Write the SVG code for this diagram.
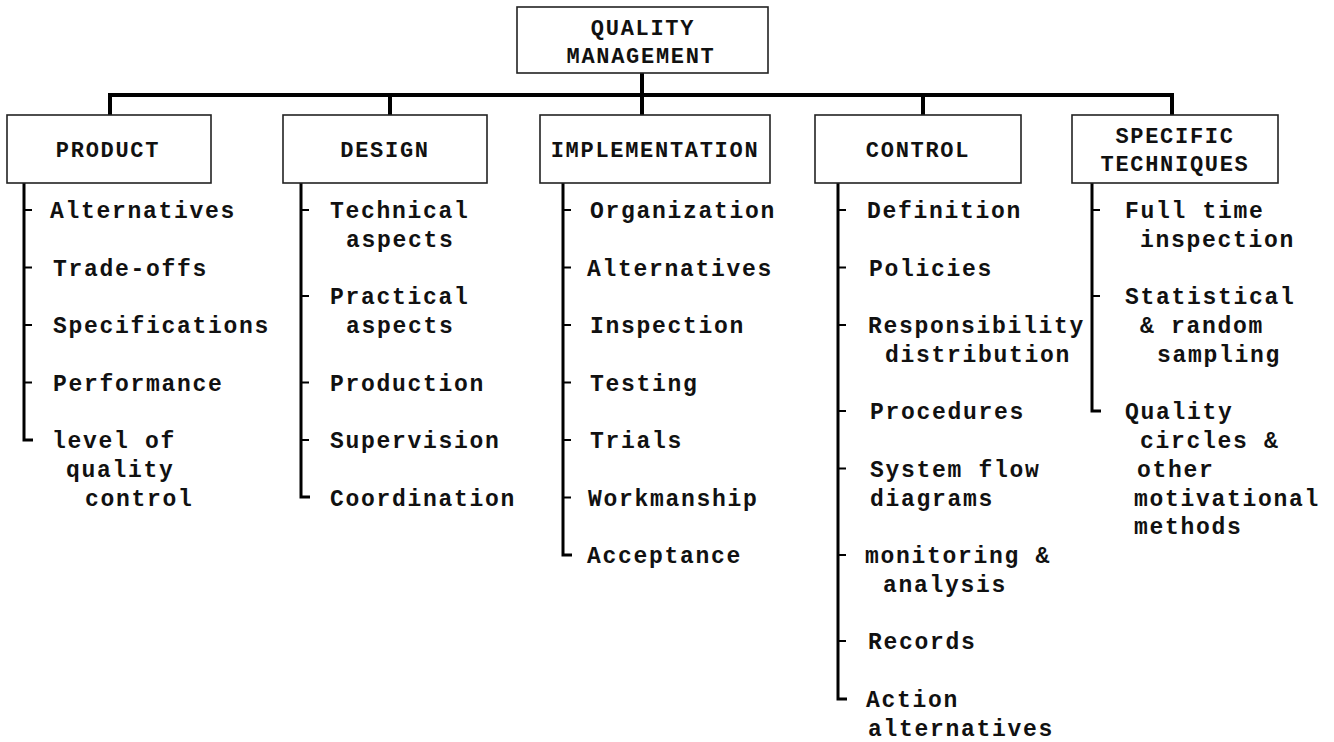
<svg xmlns="http://www.w3.org/2000/svg" width="1334" height="742" viewBox="0 0 1334 742">
<style>
.box{fill:#fff;stroke:#222;stroke-width:1.6}
.hd{font-family:"Liberation Mono","Courier New",monospace;font-weight:bold;font-size:22px;letter-spacing:1.7px;fill:#111;text-anchor:middle}
.it{font-family:"Liberation Mono","Courier New",monospace;font-weight:bold;font-size:23px;letter-spacing:1.7px;fill:#111}
.bar{fill:none;stroke:#000;stroke-width:4;stroke-linecap:square}
.ln{fill:none;stroke:#000;stroke-width:3}
.tk{fill:none;stroke:#000;stroke-width:2}
</style>
<rect width="1334" height="742" fill="#fff"/>
<g id="connectors">
<path class="bar" d="M110,115 V95 H1172 V115"/>
<path class="bar" d="M642,73 V115"/>
<path class="bar" d="M390,95 V115"/>
<path class="bar" d="M923,95 V115"/>
<!-- PRODUCT list -->
<path class="ln" d="M24,183 V440 H33"/>
<path class="tk" d="M24,210 H32 M24,267.5 H32 M24,325 H32 M24,382.5 H32"/>
<!-- DESIGN list -->
<path class="ln" d="M301,183 V497 H310"/>
<path class="tk" d="M301,210 H309 M301,296 H309 M301,382.5 H309 M301,440 H309"/>
<!-- IMPLEMENTATION list -->
<path class="ln" d="M563,183 V555 H572"/>
<path class="tk" d="M563,210 H571 M563,267.5 H571 M563,325 H571 M563,382.5 H571 M563,440 H571 M563,497.5 H571"/>
<!-- CONTROL list -->
<path class="ln" d="M838,183 V699 H847"/>
<path class="tk" d="M838,210 H846 M838,267.5 H846 M838,325 H846 M838,411 H846 M838,468.5 H846 M838,555 H846 M838,641 H846"/>
<!-- SPECIFIC TECHNIQUES list -->
<path class="ln" d="M1092,183 V411 H1101"/>
<path class="tk" d="M1092,210 H1100 M1092,296 H1100"/>
</g>
<g id="quality-management">
<rect class="box" x="517" y="7" width="251" height="66"/>
<text class="hd" x="643" y="35">QUALITY</text>
<text class="hd" x="641" y="63">MANAGEMENT</text>
</g>
<g id="product">
<rect class="box" x="7" y="115" width="204" height="68"/>
<text class="hd" x="108" y="157">PRODUCT</text>
<text class="it" x="50" y="218">Alternatives</text>
<text class="it" x="53" y="275.5">Trade-offs</text>
<text class="it" x="53" y="333">Specifications</text>
<text class="it" x="53" y="390.5">Performance</text>
<text class="it" x="52" y="448">level of</text>
<text class="it" x="66" y="476.75">quality</text>
<text class="it" x="85" y="505.5">control</text>
</g>
<g id="design">
<rect class="box" x="283" y="115" width="204" height="68"/>
<text class="hd" x="385" y="157">DESIGN</text>
<text class="it" x="330" y="218">Technical</text>
<text class="it" x="346" y="246.75">aspects</text>
<text class="it" x="330" y="304.25">Practical</text>
<text class="it" x="346" y="333">aspects</text>
<text class="it" x="330" y="390.5">Production</text>
<text class="it" x="330" y="448">Supervision</text>
<text class="it" x="330" y="505.5">Coordination</text>
</g>
<g id="implementation">
<rect class="box" x="540" y="115" width="230" height="68"/>
<text class="hd" x="655" y="157">IMPLEMENTATION</text>
<text class="it" x="590" y="218">Organization</text>
<text class="it" x="587" y="275.5">Alternatives</text>
<text class="it" x="590" y="333">Inspection</text>
<text class="it" x="590" y="390.5">Testing</text>
<text class="it" x="590" y="448">Trials</text>
<text class="it" x="588" y="505.5">Workmanship</text>
<text class="it" x="587" y="563">Acceptance</text>
</g>
<g id="control">
<rect class="box" x="815" y="115" width="206" height="68"/>
<text class="hd" x="918" y="157">CONTROL</text>
<text class="it" x="867" y="218">Definition</text>
<text class="it" x="869" y="275.5">Policies</text>
<text class="it" x="868" y="333">Responsibility</text>
<text class="it" x="885" y="361.75">distribution</text>
<text class="it" x="870" y="419.25">Procedures</text>
<text class="it" x="870" y="476.75">System flow</text>
<text class="it" x="870" y="505.5">diagrams</text>
<text class="it" x="865" y="563">monitoring &amp;</text>
<text class="it" x="883" y="591.75">analysis</text>
<text class="it" x="868" y="649.25">Records</text>
<text class="it" x="866" y="706.75">Action</text>
<text class="it" x="868" y="735.5">alternatives</text>
</g>
<g id="specific-techniques">
<rect class="box" x="1072" y="115" width="206" height="68"/>
<text class="hd" x="1175" y="143">SPECIFIC</text>
<text class="hd" x="1175" y="171">TECHNIQUES</text>
<text class="it" x="1125" y="218">Full time</text>
<text class="it" x="1140" y="246.75">inspection</text>
<text class="it" x="1125" y="304.25">Statistical</text>
<text class="it" x="1140" y="333">&amp; random</text>
<text class="it" x="1157" y="361.75">sampling</text>
<text class="it" x="1125" y="419.25">Quality</text>
<text class="it" x="1140" y="448">circles &amp;</text>
<text class="it" x="1137" y="476.75">other</text>
<text class="it" x="1134" y="505.5">motivational</text>
<text class="it" x="1134" y="534.25">methods</text>
</g>
</svg>
